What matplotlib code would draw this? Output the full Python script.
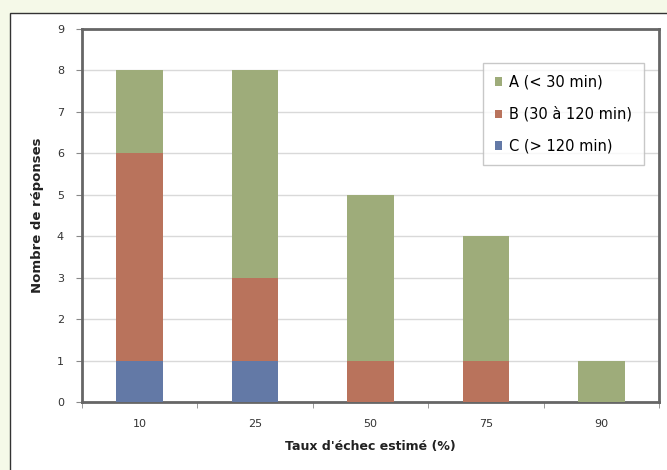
import numpy as np
import matplotlib
matplotlib.use("Agg")
import matplotlib.pyplot as plt
from matplotlib.patches import Rectangle

categories = ["10", "25", "50", "75", "90"]
c_vals = [1, 1, 0, 0, 0]   # C (> 120 min)
b_vals = [5, 2, 1, 1, 0]   # B (30 à 120 min)
a_vals = [2, 5, 4, 3, 1]   # A (< 30 min)
labels = ["A (< 30 min)", "B (30 à 120 min)", "C (> 120 min)"]

green = "#9eac7a"
red = "#b9735c"
blue = "#6379a6"

plt.rcParams['font.family'] = ['DejaVu Sans']

fig = plt.figure(figsize=(6.67, 4.70), dpi=100)
fig.patch.set_facecolor("#f5f9e8")
# white chart panel with dark border
fig.patches.append(Rectangle((10 / 667, -0.1), 1.0, (470 - 13) / 470 + 0.1,
                             transform=fig.transFigure, facecolor="white",
                             edgecolor="#333333", linewidth=1.0, zorder=-5))

ax = fig.add_axes([82 / 667, 68 / 470, 577 / 667, 373 / 470])
ax.set_zorder(2)
ax.set_facecolor("white")

x = np.arange(len(categories))
w = 0.405
c = np.array(c_vals)
b = np.array(b_vals)
a = np.array(a_vals)
ax.bar(x, c, w, color=blue, label=labels[2], zorder=3)
ax.bar(x, b, w, bottom=c, color=red, label=labels[1], zorder=3)
ax.bar(x, a, w, bottom=c + b, color=green, label=labels[0], zorder=3)

ax.set_xlim(-0.5, len(categories) - 0.5)
ax.set_ylim(0, 9)
ax.set_yticks(range(10))
ax.set_xticks(x)
ax.set_xticklabels(categories)
ax.set_xticks(np.arange(-0.5, len(categories)), minor=True)
ax.tick_params(axis="x", which="major", length=0, pad=12, labelsize=8, colors="#333333")
ax.tick_params(axis="x", which="minor", length=4, color="#888888", direction="out")
ax.tick_params(axis="y", length=4, color="#888888", labelsize=8, pad=9, colors="#333333")
ax.grid(axis="y", color="#d9d9d9", linewidth=1.0, zorder=0)
for s in ax.spines.values():
    s.set_color("#666666")
    s.set_linewidth(2)

ax.set_xlabel("Taux d'échec estimé (%)", fontsize=9, fontweight="bold", labelpad=8, color="#222222")
ax.set_ylabel("Nombre de réponses", fontsize=9.5, fontweight="bold", labelpad=9, color="#222222")

h, l = ax.get_legend_handles_labels()
leg = ax.legend(h[::-1], l[::-1], loc="upper right", bbox_to_anchor=(0.974, 0.909),
                fontsize=10.5, frameon=True, fancybox=False, edgecolor="#bbbbbb",
                handlelength=0.5, handleheight=0.5, labelspacing=1.15,
                borderpad=0.8, handletextpad=0.5, borderaxespad=0)
leg.get_frame().set_linewidth(1.0)

fig.savefig("out.png", dpi=100, facecolor=fig.get_facecolor())
